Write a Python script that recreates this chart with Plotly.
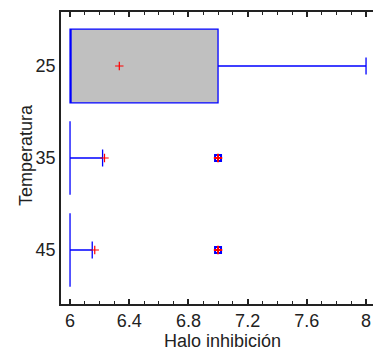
import plotly.graph_objects as go

categories = ["25", "35", "45"]
q1 = [6.0, 6.0, 6.0]
median = [6.0, 6.0, 6.0]
q3 = [7.0, 6.0, 6.0]
lower = [6.0, 6.0, 6.0]
upper = [8.0, 6.22, 6.15]
means = [6.333, 6.233, 6.167]
outlier_cat = ["35", "45"]
outlier_val = [7.0, 7.0]
x_title = "Halo inhibición"
y_title = "Temperatura"

fig = go.Figure()
fig.add_trace(go.Box(
    y=categories, q1=q1, median=median, q3=q3,
    lowerfence=lower, upperfence=upper,
    orientation="h", width=0.8, whiskerwidth=0.23,
    fillcolor="#C0C0C0", line=dict(color="#0000FF", width=1.3),
    boxpoints=False, hoverinfo="skip", showlegend=False,
))
fig.add_trace(go.Scatter(
    x=outlier_val, y=outlier_cat, mode="markers",
    marker=dict(symbol="square-open", size=6, color="#0000FF", line=dict(width=2, color="#0000FF")),
    showlegend=False,
))
fig.add_trace(go.Scatter(
    x=means, y=categories, mode="markers",
    marker=dict(symbol="cross-thin", size=6, color="red", line=dict(width=1.2, color="red")),
    showlegend=False,
))
fig.add_trace(go.Scatter(
    x=outlier_val, y=outlier_cat, mode="markers",
    marker=dict(symbol="cross-thin", size=6, color="red", line=dict(width=2, color="red")),
    showlegend=False,
))

fig.update_layout(
    width=373, height=362,
    margin=dict(l=61, r=0, t=12, b=58, autoexpand=False),
    plot_bgcolor="white", paper_bgcolor="white",
    font=dict(family="Liberation Sans, Arial, sans-serif", size=18, color="#222"),
    xaxis=dict(
        range=[5.939, 8.047], tickvals=[6, 6.4, 6.8, 7.2, 7.6, 8],
        ticktext=["6", "6.4", "6.8", "7.2", "7.6", "8"],
        ticks="inside", ticklen=5, tickwidth=1.5, tickcolor="#222",
        minor=dict(dtick=0.1, tick0=6, ticks="inside", ticklen=3, tickwidth=1, tickcolor="#222", showgrid=False),
        showline=True, linecolor="#222", linewidth=1.5, mirror="allticks",
        showgrid=False, zeroline=False, automargin=False,
    ),
    yaxis=dict(
        type="category", categoryorder="array", categoryarray=categories,
        range=[2.587, -0.587],
        ticks="", showline=True, linecolor="#222", linewidth=1.5,
        showgrid=False, zeroline=False, automargin=False,
    ),
    annotations=[
        dict(text=x_title, xref="paper", yref="paper", x=0.519, y=0,
             xanchor="center", yanchor="middle", yshift=-37, showarrow=False,
             font=dict(size=18)),
        dict(text=y_title, xref="paper", yref="paper", x=0, y=0.51,
             xanchor="center", yanchor="middle", xshift=-35, textangle=-90,
             showarrow=False, font=dict(size=18)),
    ],
)
fig.write_html("out.html", post_script="document.body.style.margin='0';",
               config={"displayModeBar": False})
